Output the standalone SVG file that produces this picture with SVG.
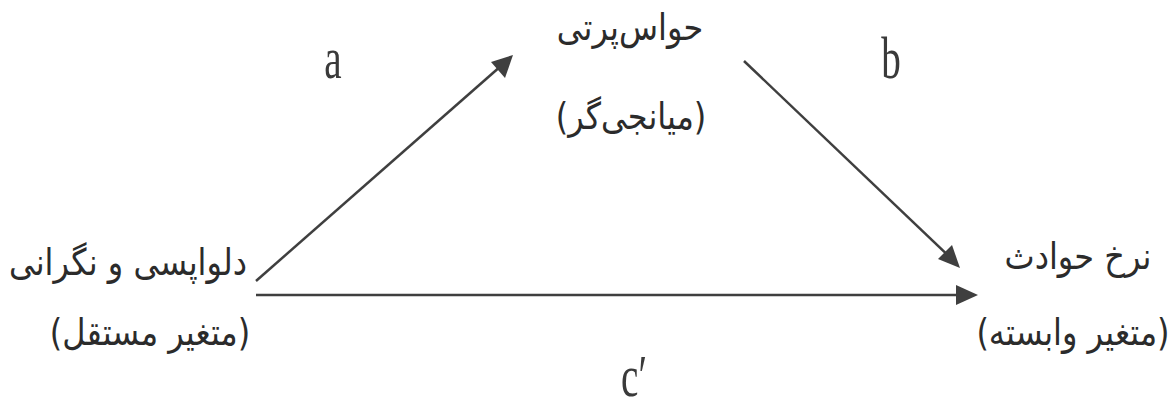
<svg xmlns="http://www.w3.org/2000/svg" width="1176" height="408" viewBox="0 0 1176 408">
<style>
.fa{font-family:"DejaVu Sans",sans-serif;font-size:32px;fill:#2b2b2b;text-anchor:middle;direction:rtl}
.lbl{font-family:"Liberation Serif",serif;font-size:46px;fill:#3a3a3a;text-anchor:middle}
.edge{stroke:#3f3f3f;stroke-width:2.5;fill:none}
.head{fill:#3f3f3f}
</style>
<rect width="1176" height="408" fill="#ffffff"/>
<g id="connectors">
<path class="edge" d="M256,281 L510,58"/>
<path class="head" d="M513,55 L491,62 L505,78 Z"/>
<path class="edge" d="M744,61 L955,262"/>
<path class="head" d="M960,268 L938,259 L952,245 Z"/>
<path class="edge" d="M256,295 L960,295"/>
<path class="head" d="M978,295 L956,285 L956,305 Z"/>
</g>
<g id="label-a"><text class="lbl" transform="translate(333 78) scale(0.85 1.3)">a</text></g>
<g id="label-b"><text class="lbl" transform="translate(891 78) scale(0.85 1.3)">b</text></g>
<g id="label-c"><text class="lbl" transform="translate(634 396) scale(0.85 1.3)">c′</text></g>
<g id="node-independent">
<text class="fa" transform="translate(128 275) scale(1 1.15)">دلواپسی و نگرانی</text>
<text class="fa" transform="translate(150 345) scale(1 1.15)">(متغیر مستقل)</text>
</g>
<g id="node-mediator">
<text class="fa" transform="translate(630 40) scale(1 1.15)">حواس‌پرتی</text>
<text class="fa" transform="translate(631 129) scale(1 1.15)">(میانجی‌گر)</text>
</g>
<g id="node-dependent">
<text class="fa" transform="translate(1078 269) scale(1 1.15)">نرخ حوادث</text>
<text class="fa" transform="translate(1073 345) scale(1 1.15)">(متغیر وابسته)</text>
</g>
</svg>
